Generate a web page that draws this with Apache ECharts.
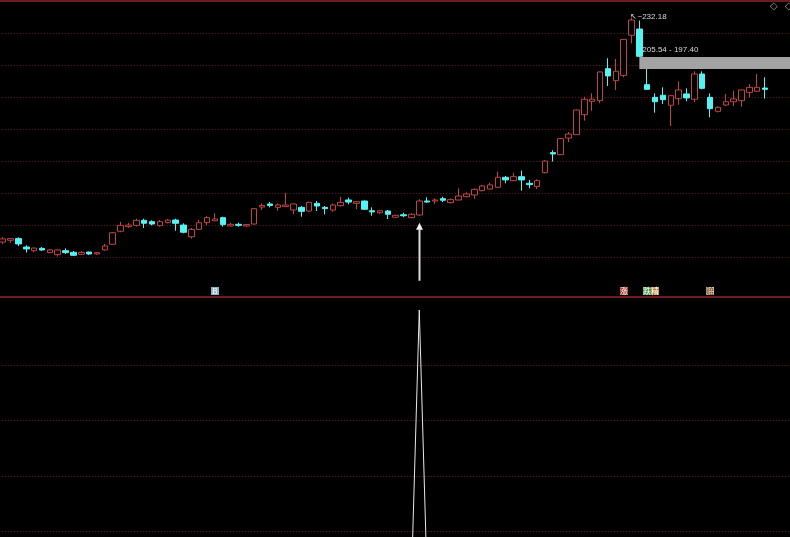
<!DOCTYPE html>
<html>
<head>
<meta charset="utf-8">
<script src="https://cdn.jsdelivr.net/npm/echarts@6/dist/echarts.min.js"></script>
<style>html,body{margin:0;padding:0;background:#000;}#c{width:790px;height:537px;}</style>
</head>
<body>
<div id="c"></div>
<script>
// ---- data ----
const opens  = [80.1,81.3,82.4,76.7,74.2,75.8,72.9,71.5,74.2,73.1,71.8,73.3,72.0,74.7,78.6,87.4,90.5,91.4,94.8,93.9,91.2,93.2,95.0,91.6,83.7,88.7,93.2,94.5,96.6,91.0,92.1,91.0,92.3,103.8,105.9,103.6,104.1,101.8,103.6,101.1,106.3,103.6,101.8,104.7,108.6,106.3,107.9,101.3,100.0,101.1,96.9,98.6,96.6,98.4,107.9,107.9,109.5,106.8,108.6,110.8,112.0,114.9,116.0,117.2,124.0,121.7,124.4,119.9,117.7,127.1,140.7,139.3,150.6,152.9,166.4,175.5,175.9,197.6,189.5,193.1,220.3,224.5,186.8,178.2,179.6,172.8,177.3,180.5,176.9,194.0,178.2,168.7,173.0,175.2,175.9,181.6,182.3,184.5];
const closes = [82.2,82.4,78.8,75.4,76.0,74.7,74.7,74.7,72.9,71.1,73.1,72.0,72.9,77.4,86.4,91.4,91.6,94.8,92.8,92.3,93.9,95.0,92.8,86.7,88.7,93.2,96.6,95.7,91.9,92.1,91.4,91.9,102.7,104.9,104.9,105.2,105.2,105.9,100.9,107.0,104.5,102.7,105.2,107.0,107.2,107.4,102.3,100.5,101.3,98.9,98.2,97.9,98.9,107.9,107.2,108.6,108.4,108.8,111.3,112.7,115.8,118.1,118.8,124.0,122.2,124.4,122.2,119.0,121.7,135.0,139.8,150.2,153.3,169.6,176.9,176.9,195.4,192.7,195.9,217.5,230.6,206.0,183.6,175.2,176.6,179.3,183.2,177.8,194.0,184.3,170.5,171.4,175.2,177.1,183.2,185.0,185.0,183.6];
const lows   = [78.8,79.6,77.4,72.9,73.1,74.0,72.5,70.2,72.0,70.6,71.3,71.3,71.5,74.2,78.4,86.7,89.6,90.5,89.6,91.4,90.5,92.8,87.8,86.0,82.4,88.3,91.6,94.2,90.5,90.5,90.5,90.5,91.9,101.8,103.6,101.3,103.8,99.1,97.3,100.6,101.1,98.9,100.6,104.1,105.7,102.3,102.0,97.9,99.1,95.7,96.6,96.9,96.4,97.9,106.8,105.9,107.2,106.3,108.3,110.4,109.3,114.5,115.8,116.9,119.9,121.3,114.9,116.5,116.0,126.7,134.6,139.1,147.9,152.7,162.4,169.1,174.2,185.9,183.2,191.8,214.8,205.54,183.5,167.8,173.7,158.8,173.2,175.5,175.0,183.6,164.7,168.0,172.3,172.3,171.8,178.2,181.8,177.3];
const highs  = [83.5,82.8,83.3,77.9,76.4,76.7,75.4,75.0,75.8,74.0,74.0,73.5,73.3,78.8,86.9,93.7,93.2,95.9,95.9,94.8,95.0,95.7,95.9,92.8,89.6,95.0,97.8,99.6,97.3,93.2,93.2,92.3,103.2,106.3,107.2,106.3,113.5,106.3,104.5,107.4,107.9,104.5,106.3,110.8,110.2,107.9,108.1,103.6,101.8,101.8,98.6,100.0,99.6,109.1,110.4,109.7,110.8,109.7,116.5,113.8,116.5,118.8,120.3,127.8,124.9,127.1,128.5,122.2,122.6,135.7,142.3,150.6,154.7,169.9,178.6,180.9,195.7,204.7,204.2,217.7,232.18,230.3,197.40,180.9,185.0,179.5,189.1,184.3,195.8,195.8,180.9,172.0,180.5,182.7,183.6,187.2,194.0,191.8];
const signal = [0,0,0,0,0,0,0,0,0,0,0,0,0,0,0,0,0,0,0,0,0,0,0,0,0,0,0,0,0,0,0,0,0,0,0,0,0,0,0,0,0,0,0,0,0,0,0,0,0,0,0,0,0,1,0,0,0,0,0,0,0,0,0,0,0,0,0,0,0,0,0,0,0,0,0,0,0,0,0,0,0,0,0,0,0,0,0,0,0,0,0,0,0,0,0,0,0,0];
const categories = ['1','2','3','4','5','6','7','8','9','10','11','12','13','14','15','16','17','18','19','20','21','22','23','24','25','26','27','28','29','30','31','32','33','34','35','36','37','38','39','40','41','42','43','44','45','46','47','48','49','50','51','52','53','54','55','56','57','58','59','60','61','62','63','64','65','66','67','68','69','70','71','72','73','74','75','76','77','78','79','80','81','82','83','84','85','86','87','88','89','90','91','92','93','94','95','96','97','98','','','',''];
const signalIndex = 53;
const highIndex = 80;
const highValue = 232.18;
const gapStartIndex = 81;
const gapTop = 205.54;
const gapBottom = 197.40;
const markerIndex = [27, 79, 82, 83, 90];
const markerText = ['B', '涨', '跌', '精', '赔'];
const markerBg = ['#8fb4c4', '#b03a3a', '#3b9a4a', '#c07a30', '#d9c49c'];
const markerFg = ['#ffffff', '#ffffff', '#ffffff', '#ffffff', '#553322'];

// ---- chart ----
const candleData = opens.map((o, i) => [o, closes[i], lows[i], highs[i]]);
const RED = '#c04444', CYAN = '#54f4f4', GRID = '#6e2024';
const L = -1.23, W = 801.7;

const chart = echarts.init(document.getElementById('c'));
const hiddenCat = (gi, extra) => Object.assign({
  type: 'category', gridIndex: gi, data: categories, boundaryGap: true,
  axisLabel: {show: false}, axisTick: {show: false}, axisLine: {show: false}, splitLine: {show: false}
}, extra || {});
const dottedSplit = {show: true, lineStyle: {color: GRID, width: 1, type: [1, 2]}};
const g = (o) => Object.assign({left: L, width: W, containLabel: false, outerBoundsMode: 'none'}, o);

chart.setOption({
  backgroundColor: '#000000',
  animation: false,
  grid: [
    g({top: 0, height: 297}),
    g({top: 1, height: 256}),
    g({top: 310, height: 270}),
    g({top: 365.3, height: 165.9})
  ],
  xAxis: [
    hiddenCat(0, {axisLine: {show: true, lineStyle: {color: '#6e1c22', width: 2}}}),
    {type: 'value', gridIndex: 1, position: 'top', min: 0, max: 1, axisLabel: {show: false}, axisTick: {show: false},
     splitLine: {show: false}, axisLine: {show: true, onZero: false, lineStyle: {color: '#6e1c22', width: 2}}},
    hiddenCat(2),
    {type: 'value', gridIndex: 3, min: 0, max: 1, show: false}
  ],
  yAxis: [
    {type: 'value', gridIndex: 0, min: 42.82, max: 244.19, show: false, scale: true},
    {type: 'value', gridIndex: 1, min: 0, max: 8, interval: 1, axisLabel: {show: false}, axisTick: {show: false}, axisLine: {show: false}, splitLine: dottedSplit},
    {type: 'value', gridIndex: 2, min: 0, max: 1, show: false},
    {type: 'value', gridIndex: 3, min: 0, max: 3, interval: 1, axisLabel: {show: false}, axisTick: {show: false}, axisLine: {show: false}, splitLine: dottedSplit}
  ],
  series: [
    {
      type: 'candlestick', xAxisIndex: 0, yAxisIndex: 0, data: candleData, barWidth: 6,
      itemStyle: {color: '#000000', color0: CYAN, borderColor: RED, borderColor0: CYAN, borderWidth: 1},
      markArea: {
        silent: true,
        itemStyle: {color: '#a3a3a3'},
        label: {show: true, position: [3, -11], color: '#d8d8d8', fontSize: 8, fontFamily: 'Liberation Sans',
                formatter: gapTop.toFixed(2) + ' - ' + gapBottom.toFixed(2)},
        data: [[{coord: [gapStartIndex, gapTop]}, {coord: [categories.length - 1, gapBottom]}]]
      },
      markPoint: {
        silent: true, symbol: 'circle', symbolSize: 0,
        label: {show: true, position: 'right', distance: 0, offset: [-1, -1], color: '#d8d8d8', fontSize: 8,
                fontFamily: 'Liberation Sans', formatter: '↖~' + highValue.toFixed(2)},
        data: [{coord: [highIndex, highValue]}]
      }
    },
    {
      type: 'custom', xAxisIndex: 0, yAxisIndex: 0, clip: false, silent: true,
      data: [[signalIndex, lows[signalIndex]]],
      renderItem: function (params, api) {
        const p = api.coord([api.value(0), api.value(1)]);
        const x = Math.round(p[0]) + 0.5, tip = p[1] + 7;
        return {type: 'group', children: [
          {type: 'polygon', shape: {points: [[x, tip], [x - 3.5, tip + 7], [x + 3.5, tip + 7]]}, style: {fill: '#f0f0f0'}},
          {type: 'rect', shape: {x: x - 1, y: tip + 6, width: 2, height: 52}, style: {fill: '#dcdcdc'}}
        ]};
      }
    },
    {
      type: 'custom', xAxisIndex: 0, yAxisIndex: 0, clip: false, silent: true,
      data: markerIndex.map((m, i) => [m, 100, i]),
      renderItem: function (params, api) {
        const p = api.coord([api.value(0), api.value(1)]);
        const k = api.value(2);
        const bottom = params.coordSys.y + params.coordSys.height;
        const x = Math.round(p[0]);
        return {type: 'group', children: [
          {type: 'rect', shape: {x: x - 4, y: bottom - 10, width: 8, height: 8}, style: {fill: markerBg[k]}},
          {type: 'text', style: {x: x, y: bottom - 6, text: markerText[k], fill: markerFg[k], fontSize: 8,
            fontFamily: 'Noto Sans CJK SC', align: 'center', verticalAlign: 'middle'}}
        ]};
      }
    },
    {
      type: 'line', xAxisIndex: 2, yAxisIndex: 2, data: signal, symbol: 'none', silent: true,
      lineStyle: {color: '#e8e8e8', width: 1}
    }
  ],
  graphic: [
    {type: 'text', left: 770, top: 1, style: {text: '◇', fill: '#9a9a9a', fontSize: 10, fontFamily: 'DejaVu Sans'}},
    {type: 'text', left: 785, top: 1, style: {text: '◇', fill: '#9a9a9a', fontSize: 10, fontFamily: 'DejaVu Sans'}}
  ]
});
</script>
</body>
</html>
